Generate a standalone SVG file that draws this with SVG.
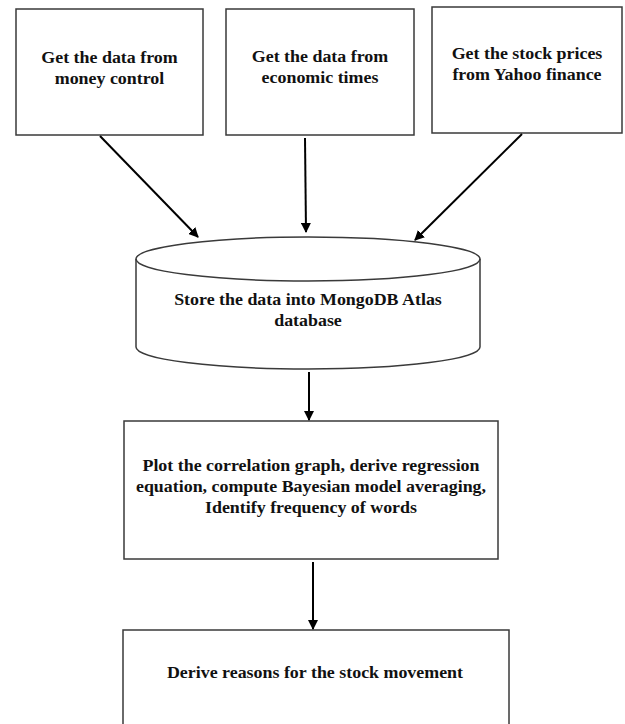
<svg xmlns="http://www.w3.org/2000/svg" width="625" height="724" viewBox="0 0 625 724">
<style>
.box{fill:#fff;stroke:#3a3a3a;stroke-width:1.5}
.lbl{font-family:"Liberation Serif","Times New Roman",serif;font-weight:bold;font-size:16px;fill:#111;text-anchor:middle}
.conn{stroke:#000;stroke-width:2;fill:none;marker-end:url(#ah)}
</style>
<defs>
<marker id="ah" viewBox="0 0 10 10" refX="9" refY="5" markerWidth="5" markerHeight="5" orient="auto" markerUnits="strokeWidth">
<path d="M0,0 L10,5 L0,10 z" fill="#000"/>
</marker>
</defs>
<rect width="625" height="724" fill="#fff"/>
<g id="n1">
<rect class="box" x="16" y="9" width="187" height="126"/>
<g transform="matrix(1.12,0,0,1,-13.14,0)">
<text class="lbl" x="109.5" y="63">Get the data from</text>
<text class="lbl" x="109.5" y="84">money control</text>
</g>
</g>
<g id="n2">
<rect class="box" x="226" y="9" width="188" height="126"/>
<g transform="matrix(1.12,0,0,1,-38.4,0)">
<text class="lbl" x="320" y="62">Get the data from</text>
<text class="lbl" x="320" y="83">economic times</text>
</g>
</g>
<g id="n3">
<rect class="box" x="432" y="7" width="190" height="126"/>
<g transform="matrix(1.12,0,0,1,-63.24,0)">
<text class="lbl" x="527" y="59">Get the stock prices</text>
<text class="lbl" x="527" y="80">from Yahoo finance</text>
</g>
</g>
<g id="db">
<path class="box" d="M136,259 L136,347 A172,22 0 0 0 480,347 L480,259 A172,22 0 0 0 136,259 Z"/>
<path d="M136,259 A172,22 0 0 0 480,259" fill="none" stroke="#3a3a3a" stroke-width="1.5"/>
<g transform="matrix(1.12,0,0,1,-36.96,0)">
<text class="lbl" x="308" y="305">Store the data into MongoDB Atlas</text>
<text class="lbl" x="308" y="326">database</text>
</g>
</g>
<g id="n4">
<rect class="box" x="124" y="421" width="374" height="138"/>
<g transform="matrix(1.12,0,0,1,-37.32,0)">
<text class="lbl" x="311" y="471">Plot the correlation graph, derive regression</text>
<text class="lbl" x="311" y="492">equation, compute Bayesian model averaging,</text>
<text class="lbl" x="311" y="513">Identify frequency of words</text>
</g>
</g>
<g id="n5">
<rect class="box" x="123" y="630" width="386" height="110"/>
<g transform="matrix(1.12,0,0,1,-37.8,0)">
<text class="lbl" x="315" y="678">Derive reasons for the stock movement</text>
</g>
</g>
<g id="connectors">
<line class="conn" x1="100" y1="136" x2="198" y2="237"/>
<line class="conn" x1="305" y1="138" x2="306" y2="232"/>
<line class="conn" x1="522" y1="134" x2="415" y2="240"/>
<line class="conn" x1="309" y1="372" x2="309" y2="420"/>
<line class="conn" x1="313" y1="562" x2="313" y2="629"/>
</g>
</svg>
